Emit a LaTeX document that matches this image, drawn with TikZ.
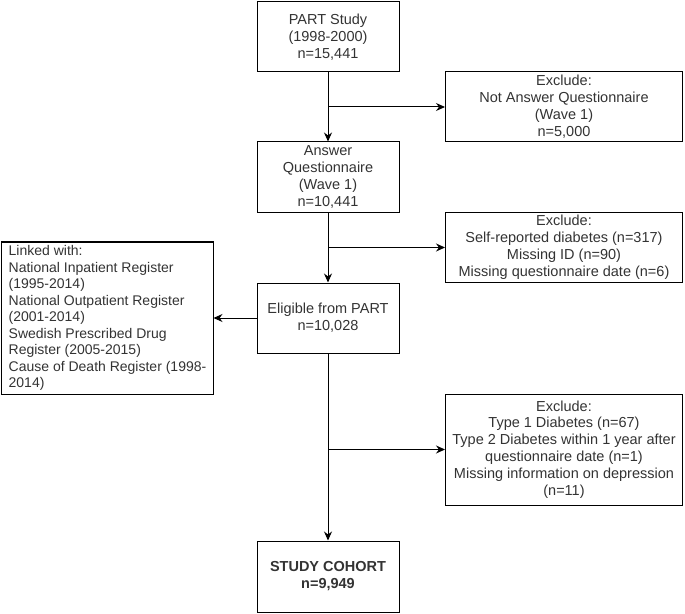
\documentclass[tikz,border=0pt]{standalone}
\usepackage{fontspec}
\setmainfont{Liberation Sans}
\usetikzlibrary{arrows.meta}
\definecolor{txtgray}{RGB}{51,51,51}

\begin{document}
\begin{tikzpicture}[x=1bp, y=-1bp,
    box/.style={draw, line width=1bp, align=center, text=txtgray, inner sep=0pt,
      font=\fontsize{14.5bp}{16.9bp}\selectfont},
    mainbox/.style={box, minimum width=142bp, minimum height=70bp},
    exclbox/.style={box, minimum width=237bp, minimum height=70bp},
    flow/.style={line width=1bp, -{Stealth[length=9bp, width=8bp]}}]
        \useasboundingbox (0,0) rectangle (685,614);

        % main column
        \node[mainbox] (part) at (328,37) {PART Study\\(1998-2000)\\n=15,441};
        \node[mainbox] (answer) at (328,177) {Answer\\Questionnaire\\(Wave 1)\\n=10,441};
        \node[mainbox] (eligible) at (328,318) {Eligible from PART\\n=10,028};
        \node[mainbox, minimum height=71bp, font=\fontsize{14.5bp}{16.9bp}\selectfont\bfseries] (cohort) at (328,576.5) {STUDY COHORT\\n=9,949};

        % exclusions
        \node[exclbox] (excla) at (564,107) {Exclude:\\Not Answer Questionnaire\\(Wave 1)\\n=5,000};
        \node[exclbox] (exclb) at (564,247.5) {Exclude:\\Self-reported diabetes (n=317)\\Missing ID (n=90)\\Missing questionnaire date (n=6)};
        \node[exclbox, minimum height=111bp] (exclc) at (564,449.5) {Exclude:\\Type 1 Diabetes (n=67)\\Type 2 Diabetes within 1 year after\\questionnaire date (n=1)\\Missing information on depression\\(n=11)};

        % registers
        \node[box, align=left, minimum width=211bp, minimum height=152bp, font=\fontsize{14bp}{16.5bp}\selectfont] (linked) at (107.5,318) {Linked with:\\National Inpatient Register\\(1995-2014)\\National Outpatient Register\\(2001-2014)\\Swedish Prescribed Drug\\Register (2005-2015)\\Cause of Death Register (1998-\\2014)};

        \coordinate (ja) at (part.south |- excla.west);
        \coordinate (jb) at (answer.south |- exclb.west);
        \coordinate (jc) at (eligible.south |- exclc.west);

        \draw[flow] (part) -- (answer);
        \draw[flow] (answer) -- (eligible);
        \draw[flow] (eligible) -- (cohort);
        \draw[flow] (ja) -- (excla);
        \draw[flow] (jb) -- (exclb);
        \draw[flow] (jc) -- (exclc);
        \draw[flow] (eligible) -- (linked);
    \end{tikzpicture}
\end{document}
